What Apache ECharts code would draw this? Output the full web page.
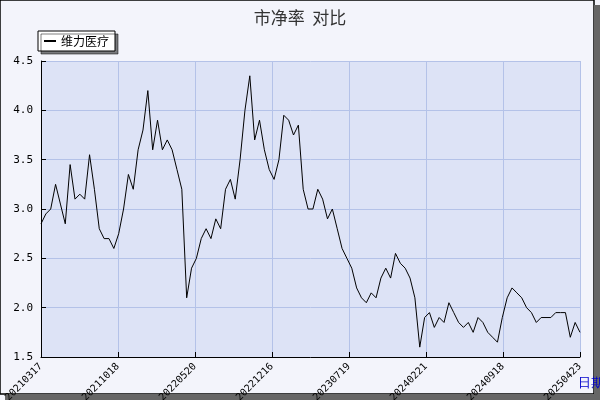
<!DOCTYPE html>
<html><head><meta charset="utf-8">
<script src="https://cdn.jsdelivr.net/npm/echarts@6/dist/echarts.min.js"></script>
<style>body{margin:0;background:#fff}#c{width:600px;height:400px}</style></head>
<body><div id="c"></div>
<script>
const tickLabels=['20210317','20211018','20220520','20221216','20230719','20240221','20240918','20250423'];
const seriesName='维力医疗';
const values=[2.85,2.95,3.0,3.25,3.05,2.85,3.45,3.1,3.15,3.1,3.55,3.2,2.8,2.7,2.7,2.6,2.75,3.0,3.35,3.2,3.6,3.8,4.2,3.6,3.9,3.6,3.7,3.6,3.4,3.2,2.1,2.4,2.5,2.7,2.8,2.7,2.9,2.8,3.2,3.3,3.1,3.5,4.0,4.35,3.7,3.9,3.6,3.4,3.3,3.5,3.95,3.9,3.75,3.85,3.2,3.0,3.0,3.2,3.1,2.9,3.0,2.8,2.6,2.5,2.4,2.2,2.1,2.05,2.15,2.1,2.3,2.4,2.3,2.55,2.45,2.4,2.3,2.1,1.6,1.9,1.95,1.8,1.9,1.85,2.05,1.95,1.85,1.8,1.85,1.75,1.9,1.85,1.75,1.7,1.65,1.9,2.1,2.2,2.15,2.1,2.0,1.95,1.85,1.9,1.9,1.9,1.95,1.95,1.95,1.7,1.85,1.75];
const step=1512/(values.length-1);
const data=values.map((v,i)=>[i*step,v]);
const chart=echarts.init(document.getElementById('c'));
chart.setOption({
  backgroundColor:'#f3f4fb',
  animation:false,
  title:{text:'市净率  对比',left:'center',top:4,textStyle:{fontSize:17,fontWeight:'normal',color:'#333',fontFamily:'Noto Sans CJK SC'}},
  legend:{data:[seriesName],left:38,top:31,orient:'vertical',backgroundColor:'#fff',borderColor:'#000',borderWidth:1,padding:[4,6],
    shadowColor:'rgba(0,0,0,0.5)',shadowOffsetX:3,shadowOffsetY:3,shadowBlur:0,
    itemWidth:12,itemHeight:2,icon:'rect',textStyle:{fontSize:12,color:'#000',fontFamily:'Noto Sans CJK SC'}},
  grid:{left:41,right:20,top:61,bottom:43,outerBoundsMode:'none',containLabel:false,backgroundColor:'#dde3f6',show:true,borderWidth:0},
  xAxis:{type:'value',min:0,max:1512,interval:216,
    axisLine:{lineStyle:{color:'#000'}},axisTick:{show:true,inside:true,length:5,lineStyle:{color:'#000'}},
    splitLine:{show:true,lineStyle:{color:'#b4c2e8'}},
    axisLabel:{rotate:45,fontSize:10,color:'#000',fontFamily:'DejaVu Sans Mono',formatter:v=>tickLabels[Math.round(v/216)]||''},
    name:'日期',nameLocation:'end',nameGap:-22,nameTextStyle:{color:'#0000cc',fontSize:13,verticalAlign:'top',padding:[20,0,0,0]}},
  yAxis:{type:'value',min:1.5,max:4.5,interval:0.5,
    axisLine:{show:true,lineStyle:{color:'#000'}},axisTick:{show:true,inside:true,length:5,lineStyle:{color:'#000'}},
    splitLine:{show:true,lineStyle:{color:'#b4c2e8'}},
    axisLabel:{color:'#000',fontSize:11,fontFamily:'DejaVu Sans Mono',formatter:v=>v.toFixed(1)}},
  series:[{name:seriesName,type:'line',data:data,symbol:'none',lineStyle:{color:'#000',width:1},itemStyle:{color:'#000'}}],
  graphic:[
    {type:'rect',shape:{x:0,y:0,width:594,height:394},style:{fill:'none',stroke:'#000',lineWidth:1.5}},
    {type:'rect',shape:{x:594,y:5,width:6,height:395},style:{fill:'#666'}},
    {type:'rect',shape:{x:5,y:394,width:595,height:6},style:{fill:'#666'}}
  ]
});
</script></body></html>
